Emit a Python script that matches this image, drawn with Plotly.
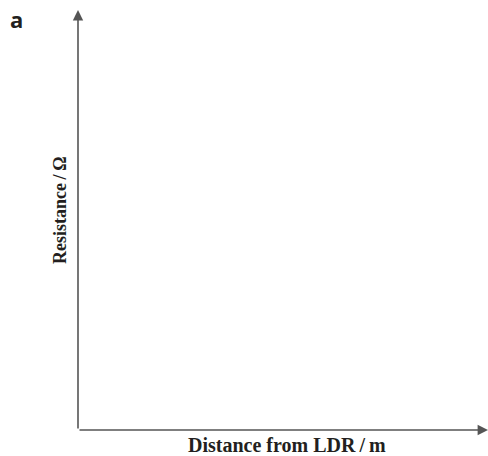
import plotly.graph_objects as go

# Data (the chart is an empty sketch of axes)
distance = []
resistance = []
x_range = [0, 1]
y_range = [0, 1]
x_title = "Distance from LDR\u2009/\u2009m"
y_title = "Resistance\u2009/\u2009\u03a9"
panel_label = "a"

W, H = 488, 456
L, R, T, B = 78, 0, 10, 26
pw, ph = W - L - R, H - T - B

def px(xp):
    return (xp - L) / pw

def py(yp):
    return (H - B - yp) / ph

axis_col = "#555555"

fig = go.Figure()
fig.add_trace(go.Scatter(x=distance, y=resistance, mode="lines"))

fig.update_layout(
    width=W, height=H,
    margin=dict(l=L, r=R, t=T, b=B),
    paper_bgcolor="white", plot_bgcolor="white",
    showlegend=False,
    xaxis=dict(range=x_range, visible=False, fixedrange=True),
    yaxis=dict(range=y_range, visible=False, fixedrange=True),
)

# y axis arrow
fig.add_annotation(x=x_range[0], y=y_range[1], ax=x_range[0], ay=y_range[0],
                   xref="x", yref="y", axref="x", ayref="y", text="",
                   showarrow=True, arrowhead=2, arrowsize=1.3, arrowwidth=1.6,
                   arrowcolor=axis_col, standoff=0, startstandoff=0)
# x axis arrow
fig.add_annotation(x=x_range[1], y=y_range[0], ax=x_range[0], ay=y_range[0],
                   xref="x", yref="y", axref="x", ayref="y", text="",
                   showarrow=True, arrowhead=2, arrowsize=1.3, arrowwidth=1.6,
                   arrowcolor=axis_col, standoff=0, startstandoff=0)

serif = "Liberation Serif, Times New Roman, serif"
fig.add_annotation(x=px(287), y=py(445), xref="paper", yref="paper",
                   text="<b>" + x_title + "</b>", showarrow=False,
                   font=dict(family=serif, size=20, color="#231f20"),
                   xanchor="center", yanchor="middle")
fig.add_annotation(x=px(60), y=py(210), xref="paper", yref="paper",
                   text="<b>" + y_title + "</b>", showarrow=False, textangle=-90,
                   font=dict(family=serif, size=18, color="#231f20"),
                   xanchor="center", yanchor="middle")
fig.add_annotation(x=px(16), y=py(19), xref="paper", yref="paper",
                   text="<b>" + panel_label + "</b>", showarrow=False,
                   font=dict(family="Open Sans, Noto Sans, sans-serif", size=22, color="#231f20"),
                   xanchor="center", yanchor="middle")

fig.write_html("out.html", config={"displayModeBar": False},
               post_script="document.body.style.margin='0';document.body.style.padding='0';")
